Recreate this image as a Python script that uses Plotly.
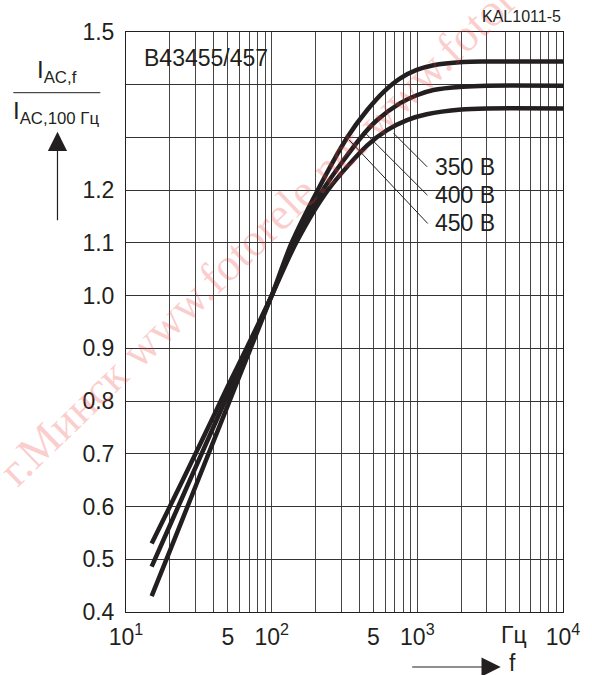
import plotly.graph_objects as go

# ---- data ----
freq_350 = [15, 20, 30, 50, 70, 100, 147, 243, 453, 620, 850, 1160, 2000, 3000, 10000]
val_350 = [0.53, 0.60, 0.70, 0.828, 0.91, 1.0, 1.10, 1.20, 1.285, 1.314, 1.333, 1.344, 1.353, 1.355, 1.355]

freq_400 = [15, 20, 30, 50, 70, 100, 142, 224, 410, 530, 763, 990, 1290, 2050, 3000, 10000]
val_400 = [0.486, 0.564, 0.674, 0.812, 0.903, 1.0, 1.10, 1.20, 1.30, 1.333, 1.365, 1.380, 1.390, 1.396, 1.398, 1.398]

freq_450 = [15, 20, 30, 50, 70, 100, 137, 207, 330, 453, 590, 763, 990, 1290, 2050, 3000, 10000]
val_450 = [0.43, 0.516, 0.638, 0.792, 0.893, 1.0, 1.10, 1.20, 1.30, 1.352, 1.387, 1.412, 1.428, 1.437, 1.443, 1.444, 1.444]

series_names = ["350 В", "400 В", "450 В"]

y_ticks = [0.4, 0.5, 0.6, 0.7, 0.8, 0.9, 1.0, 1.1, 1.2, 1.3, 1.4, 1.5]
y_ticktext = ["0.4", "0.5", "0.6", "0.7", "0.8", "0.9", "1.0", "1.1", "1.2", "", "", "1.5"]

x_ticks = [m * 10 ** k for k in (1, 2, 3) for m in range(1, 10)] + [10000]
x_label_map = {10: "10<sup>1</sup>", 50: "5", 100: "10<sup>2</sup>", 500: "5",
               1000: "10<sup>3</sup>", 10000: "10<sup>4</sup>"}
x_ticktext = [x_label_map.get(v, "") for v in x_ticks]

INK = "#231f20"
FONT = "Liberation Sans, Arial, sans-serif"

fig = go.Figure()
for f, v, name in [(freq_350, val_350, series_names[0]),
                   (freq_400, val_400, series_names[1]),
                   (freq_450, val_450, series_names[2])]:
    fig.add_trace(go.Scatter(x=f, y=v, mode="lines", name=name,
                             line=dict(color=INK, width=4.5, shape="spline", smoothing=0.8),
                             showlegend=False, hoverinfo="skip"))

W, H = 592, 675
PLOT_L, PLOT_T, PLOT_R, PLOT_B = 126, 32, 568, 612   # reference pixel frame
L, T, R, B = PLOT_L, PLOT_T, W - PLOT_R, H - PLOT_B
pw, ph = PLOT_R - PLOT_L, PLOT_B - PLOT_T

def px(x):
    return (x - PLOT_L) / pw

def py(y):
    return (PLOT_B - y) / ph

annotations = []
# watermark
annotations.append(dict(x=px(303), y=py(192), xref="paper", yref="paper",
                        text="г.Минск www.fotorele.net www.fotorele.net",
                        showarrow=False, textangle=-44, xanchor="center", yanchor="middle",
                        font=dict(family="Liberation Serif, serif", size=46, color="rgba(240,60,60,0.25)")))
# part number label
annotations.append(dict(x=px(142), y=py(57.5), xref="paper", yref="paper", text="B43455/457",
                        showarrow=False, xanchor="left", yanchor="middle",
                        font=dict(family=FONT, size=23, color=INK)))
annotations.append(dict(x=1.0, y=py(17), xref="paper", yref="paper", text="KAL1011-5",
                        showarrow=False, xanchor="right", yanchor="middle",
                        font=dict(family=FONT, size=16, color=INK)))
# series labels
for name, yc in zip(series_names, [167, 195, 223]):
    annotations.append(dict(x=px(437), y=py(yc), xref="paper", yref="paper", text=name,
                            showarrow=False, xanchor="left", yanchor="middle",
                            font=dict(family=FONT, size=23, color=INK)))
# leader lines (head on curve, tail near label)
for hx, hy, tx, ty in [(396.7, 133.3, 431.7, 168.3),
                       (368.3, 133.3, 431.7, 196.7),
                       (351.7, 140.0, 431.7, 225.0)]:
    annotations.append(dict(x=px(hx), y=py(hy), xref="paper", yref="paper", text="",
                            showarrow=True, arrowhead=0, arrowwidth=1, arrowcolor=INK,
                            ax=tx - hx, ay=ty - hy))
# y-axis title (fraction)
annotations.append(dict(x=px(56), y=py(89), xref="paper", yref="paper",
                        text="I<sub>AC,f</sub>", showarrow=False, xanchor="center", yanchor="bottom",
                        font=dict(family=FONT, size=24, color=INK)))
annotations.append(dict(x=px(55), y=py(95), xref="paper", yref="paper",
                        text="I<sub>AC,100 Гц</sub>", showarrow=False, xanchor="center", yanchor="top",
                        font=dict(family=FONT, size=24, color=INK)))
annotations.append(dict(x=px(56.7), y=py(131.7), xref="paper", yref="paper", text="",
                        showarrow=True, arrowhead=2, arrowsize=3.2, arrowwidth=1.2, arrowcolor=INK,
                        ax=0, ay=90))
# x-axis unit and f arrow
annotations.append(dict(x=px(518), y=py(635), xref="paper", yref="paper", text="Гц",
                        showarrow=False, xanchor="center", yanchor="middle",
                        font=dict(family=FONT, size=23, color=INK)))
annotations.append(dict(x=px(505), y=py(667), xref="paper", yref="paper", text="",
                        showarrow=True, arrowhead=2, arrowsize=3.2, arrowwidth=1.2, arrowcolor=INK,
                        ax=-90, ay=0))
annotations.append(dict(x=px(511), y=py(663), xref="paper", yref="paper", text="f",
                        showarrow=False, xanchor="left", yanchor="middle",
                        font=dict(family=FONT, size=23, color=INK)))

shapes = [
    dict(type="rect", xref="paper", yref="paper", x0=0, x1=px(281), y0=py(75), y1=py(39),
         fillcolor="white", line=dict(width=0), layer="between"),
    dict(type="rect", xref="paper", yref="paper", x0=px(421), x1=px(500), y0=py(241), y1=py(147),
         fillcolor="white", line=dict(width=0), layer="between"),
    dict(type="line", xref="paper", yref="paper", x0=px(12), x1=px(100), y0=py(92.7), y1=py(92.7),
         line=dict(color=INK, width=1)),
]

fig.update_layout(
    width=W, height=H,
    margin=dict(l=L, r=R, t=T, b=B, pad=0),
    paper_bgcolor="white", plot_bgcolor="white",
    font=dict(family=FONT, size=23, color=INK),
    annotations=annotations, shapes=shapes,
)
fig.update_xaxes(type="log", range=[1, 4], tickvals=x_ticks, ticktext=x_ticktext,
                 showgrid=True, gridcolor="#444", gridwidth=1,
                 showline=True, linecolor=INK, linewidth=1, mirror=True,
                 ticks="", zeroline=False, tickfont=dict(family=FONT, size=23, color=INK),
                 ticklabelstandoff=4)
fig.update_yaxes(range=[0.4, 1.5], tickvals=y_ticks, ticktext=y_ticktext,
                 showgrid=True, gridcolor="#333", gridwidth=1,
                 showline=True, linecolor=INK, linewidth=1, mirror=True,
                 ticks="", zeroline=False, tickfont=dict(family=FONT, size=23, color=INK),
                 ticklabelstandoff=6)

fig.write_html("out.html", config={"displayModeBar": False},
               post_script="document.body.style.margin='0px';document.body.style.overflow='hidden';")
